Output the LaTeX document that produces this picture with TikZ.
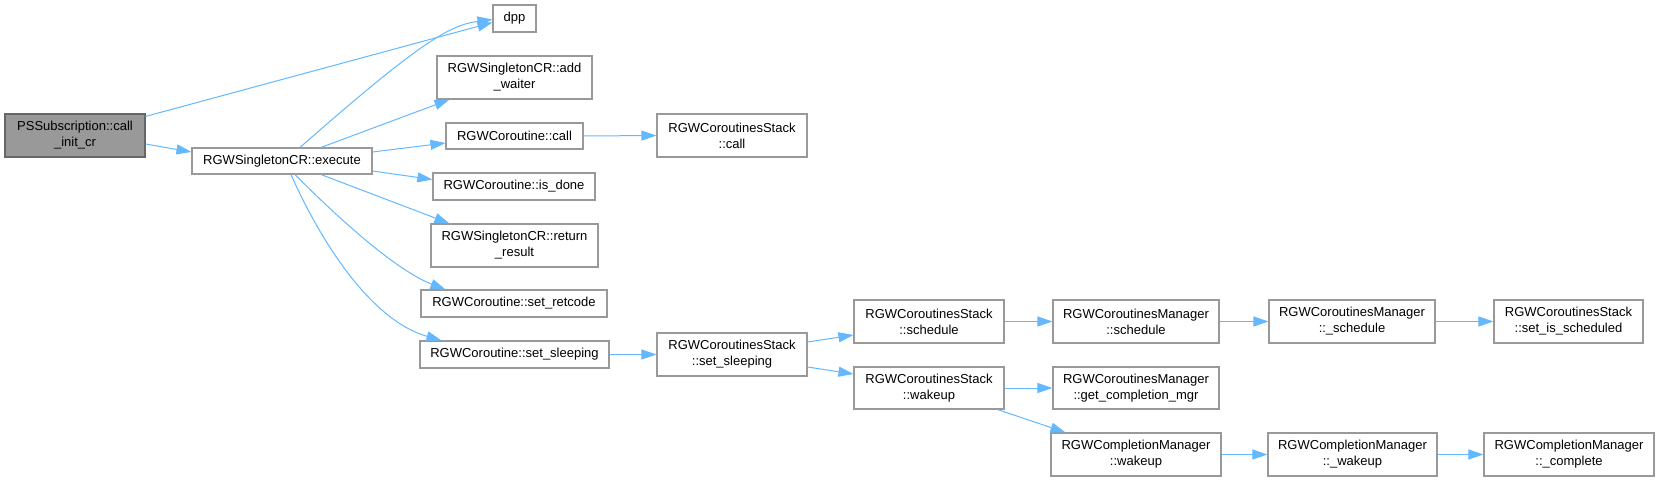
\documentclass[tikz,border=0pt]{standalone}
\usepackage{fontspec}
\setmainfont{Liberation Sans}
\usetikzlibrary{arrows.meta,calc}
\definecolor{edgeblue}{HTML}{63B8FF}
\definecolor{nodeborder}{HTML}{999999}
\definecolor{hlfill}{HTML}{999999}
\definecolor{hlborder}{HTML}{666666}
\tikzset{
  fn/.style={draw=nodeborder, line width=1.1pt, fill=white, inner sep=0pt, align=center,
    font=\fontsize{13}{16}\selectfont, text=black},
  hl/.style={fn, draw=hlborder, fill=hlfill},
  call/.style={draw=edgeblue, line width=1pt, -{Triangle[length=15pt,width=10pt]}, color=edgeblue},
}
\newcommand{\bx}[6]{% name, x1, y1, x2, y2, text
  \node[fn, minimum width=#4-#2, minimum height=#5-#3] (#1) at ({(#2+#4)/2},{(#3+#5)/2}) {#6};}
\begin{document}
\begin{tikzpicture}[x=1pt,y=-1pt]
\useasboundingbox (0,0) rectangle (1658,481);
\node[hl, minimum width=140, minimum height=43] (pss) at (75,135.5) {PSSubscription::call\\\_init\_cr};
\bx{exec}{192}{148}{372}{174}{RGWSingletonCR::execute}
\bx{dpp}{493}{5}{536}{32}{dpp}
\bx{addw}{437}{56}{592}{99}{RGWSingletonCR::add\\\_waiter}
\bx{ccall}{446}{123}{583}{149}{RGWCoroutine::call}
\bx{scall}{657}{114}{807}{157}{RGWCoroutinesStack\\::call}
\bx{isdone}{433}{173}{595}{200}{RGWCoroutine::is\_done}
\bx{rr}{431}{224}{598}{267}{RGWSingletonCR::return\\\_result}
\bx{retc}{421}{290}{607}{317}{RGWCoroutine::set\_retcode}
\bx{csleep}{420}{341}{609}{368}{RGWCoroutine::set\_sleeping}
\bx{ssleep}{657}{333}{807}{376}{RGWCoroutinesStack\\::set\_sleeping}
\bx{ssched}{854}{300}{1004}{343}{RGWCoroutinesStack\\::schedule}
\bx{swake}{854}{367}{1004}{409}{RGWCoroutinesStack\\::wakeup}
\bx{msched}{1053}{300}{1219}{343}{RGWCoroutinesManager\\::schedule}
\bx{mgcm}{1053}{367}{1219}{409}{RGWCoroutinesManager\\::get\_completion\_mgr}
\bx{cwake}{1051}{433}{1221}{476}{RGWCompletionManager\\::wakeup}
\bx{m_sched}{1269}{300}{1435}{343}{RGWCoroutinesManager\\::\_schedule}
\bx{c_wake}{1268}{433}{1437}{476}{RGWCompletionManager\\::\_wakeup}
\bx{setis}{1494}{300}{1643}{343}{RGWCoroutinesStack\\::set\_is\_scheduled}
\bx{c_comp}{1484}{433}{1654}{476}{RGWCompletionManager\\::\_complete}

\draw[call] ([yshift=-3pt]pss.north east) -- ([yshift=-4pt]dpp.west);
\draw[call] ([yshift=-8.5pt]pss.east) -- ([yshift=9pt]exec.west);
\draw[call] ([xshift=18pt]exec.north) .. controls (420,42) and (450,25) .. ([yshift=-1pt]dpp.west);
\draw[call] ([xshift=39pt]exec.north) -- ([xshift=13pt]addw.south west);
\draw[call] ([yshift=9pt]exec.east) -- ([yshift=-7pt]ccall.west);
\draw[call] ([yshift=-10pt]exec.east) -- ([yshift=7pt]isdone.west);
\draw[call] ([xshift=39pt]exec.south) -- ([xshift=19pt]rr.north west);
\draw[call] ([xshift=13pt]exec.south) .. controls (335,215) and (395,270) .. ([xshift=25pt]retc.north west);
\draw[call] ([xshift=9pt]exec.south) .. controls (320,240) and (370,320) .. ([xshift=22pt]csleep.north west);
\draw[call] (ccall.east) -- (scall.west);
\draw[call] (csleep.east) -- (ssleep.west);
\draw[call] ([yshift=12.5pt]ssleep.east) -- ([yshift=-13.5pt]ssched.west);
\draw[call] ([yshift=-12.5pt]ssleep.east) -- ([yshift=14pt]swake.west);
\draw[call] (ssched.east) -- (msched.west);
\draw[call] (swake.east) -- (mgcm.west);
\draw[call] ([xshift=-7pt]swake.south east) -- ([xshift=15pt]cwake.north west);
\draw[call] (msched.east) -- (m_sched.west);
\draw[call] (m_sched.east) -- (setis.west);
\draw[call] (cwake.east) -- (c_wake.west);
\draw[call] (c_wake.east) -- (c_comp.west);
\end{tikzpicture}
\end{document}
